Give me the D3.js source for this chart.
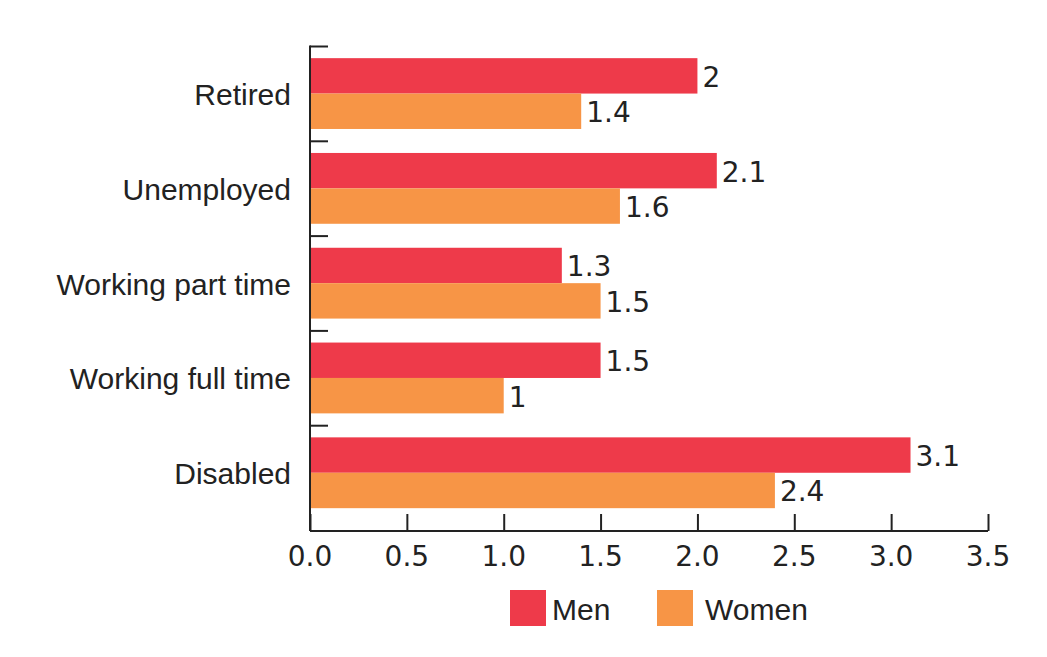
<!DOCTYPE html>
<html>
<head>
<meta charset="utf-8">
<script src="https://cdn.jsdelivr.net/npm/d3@7"></script>
<style>
  body { margin: 0; background: #fff; }
  text { font-family: "Liberation Sans", Arial, sans-serif; fill: #222; }
  text.num { font-family: "DejaVu Sans", sans-serif; }
</style>
</head>
<body>
<script>
// chart data
const categories = ["Retired", "Unemployed", "Working part time", "Working full time", "Disabled"];
const seriesNames = ["Men", "Women"];
const men = [2, 2.1, 1.3, 1.5, 3.1];
const women = [1.4, 1.6, 1.5, 1, 2.4];
const xTicks = [0, 0.5, 1, 1.5, 2, 2.5, 3, 3.5];

const colors = {Men: "#ee3a4a", Women: "#f79546"};

const width = 1047, height = 657;
const margin = {top: 46.5, left: 310, right: 59, bottom: 126};
const axisBottom = height - margin.bottom;

const svg = d3.select("body").append("svg")
  .attr("width", width)
  .attr("height", height);

const x = d3.scaleLinear().domain([0, 3.5]).range([margin.left, width - margin.right]);
// bands stop a little above the x axis line
const y = d3.scaleBand().domain(categories).range([margin.top, axisBottom - 10.5]);
const ySub = d3.scaleBand().domain(seriesNames)
  .range([y.bandwidth() * 0.123, y.bandwidth() * 0.87]);

const rows = categories.map((c, i) => ({cat: c, values: [
  {key: "Men", v: men[i]}, {key: "Women", v: women[i]}
]}));

// bars
const groups = svg.append("g").selectAll("g")
  .data(rows)
  .enter().append("g")
  .attr("transform", d => "translate(0," + y(d.cat) + ")");

groups.selectAll("rect")
  .data(d => d.values)
  .enter().append("rect")
  .attr("x", x(0))
  .attr("y", d => ySub(d.key))
  .attr("width", d => x(d.v) - x(0))
  .attr("height", ySub.bandwidth())
  .style("fill", d => colors[d.key]);

groups.selectAll("text.val")
  .data(d => d.values)
  .enter().append("text")
  .attr("class", "val num")
  .attr("x", d => x(d.v) + 5)
  .attr("y", d => ySub(d.key) + ySub.bandwidth() / 2 + 11)
  .style("font-size", "28px")
  .text(d => d.v);

// y axis
const axisY = svg.append("g");
axisY.append("line")
  .attr("x1", x(0)).attr("x2", x(0))
  .attr("y1", margin.top - 1).attr("y2", axisBottom)
  .style("stroke", "#222").style("stroke-width", 2);
axisY.selectAll("line.tick")
  .data(categories)
  .enter().append("line")
  .attr("class", "tick")
  .attr("x1", x(0)).attr("x2", x(0) + 18)
  .attr("y1", d => y(d)).attr("y2", d => y(d))
  .style("stroke", "#222").style("stroke-width", 2);
axisY.selectAll("text")
  .data(categories)
  .enter().append("text")
  .attr("x", x(0) - 19)
  .attr("y", d => y(d) + y.bandwidth() / 2 + 11)
  .style("text-anchor", "end")
  .style("font-size", "30px")
  .text(d => d);

// x axis
const axisX = svg.append("g")
  .attr("transform", "translate(0," + axisBottom + ")")
  .call(d3.axisTop(x).tickValues(xTicks).tickSize(17).tickFormat(""));
axisX.select(".domain").attr("d", "M" + x(0) + ",0H" + x(3.5))
  .style("stroke", "#222").style("stroke-width", 2);
axisX.selectAll(".tick line").style("stroke", "#222").style("stroke-width", 2);

svg.append("g").selectAll("text")
  .data(xTicks)
  .enter().append("text")
  .attr("class", "num")
  .attr("x", d => x(d))
  .attr("y", axisBottom + 35)
  .style("text-anchor", "middle")
  .style("font-size", "28px")
  .text(d => d3.format(".1f")(d));

// legend
const legendX = [510, 657];
const legend = svg.append("g").selectAll("g")
  .data(seriesNames)
  .enter().append("g")
  .attr("transform", (d, i) => "translate(" + legendX[i] + ",590)");
legend.append("rect")
  .attr("width", 36).attr("height", 36)
  .style("fill", d => colors[d]);
legend.append("text")
  .attr("x", (d, i) => i === 0 ? 42 : 48)
  .attr("y", 30)
  .style("font-size", "30px")
  .text(d => d);
</script>
</body>
</html>
